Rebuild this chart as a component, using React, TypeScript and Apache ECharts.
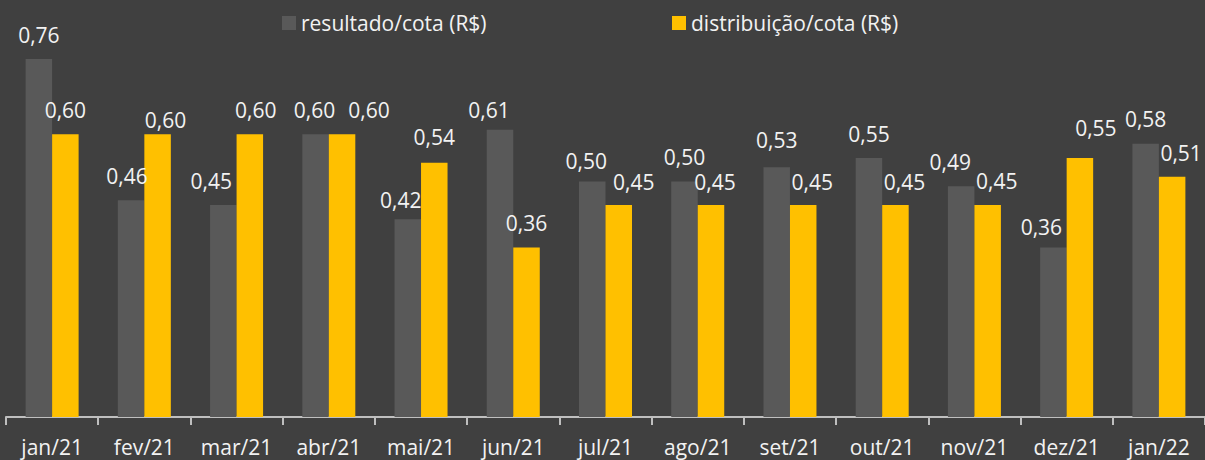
import React, { useEffect, useRef } from "react";
import * as echarts from "echarts";

const categories = ["jan/21", "fev/21", "mar/21", "abr/21", "mai/21", "jun/21", "jul/21", "ago/21", "set/21", "out/21", "nov/21", "dez/21", "jan/22"];
const resultado = [0.76, 0.46, 0.45, 0.60, 0.42, 0.61, 0.50, 0.50, 0.53, 0.55, 0.49, 0.36, 0.58];
const distribuicao = [0.60, 0.60, 0.60, 0.60, 0.54, 0.36, 0.45, 0.45, 0.45, 0.45, 0.45, 0.55, 0.51];
const seriesNames = ["resultado/cota (R$)", "distribuição/cota (R$)"];

// manual label nudges (style only, px): [dx, dy] per category
const resultadoLabelShift: [number, number][] = [
  [0, 0], [-4, 0], [-12, 0], [-1, 0], [-7, 5], [-11, 5], [-6, 4], [0, 0], [0, -3], [0, 1], [-11, 0], [-12, 4], [0, 0],
];
const distribuicaoLabelShift: [number, number][] = [
  [0, 0], [8, 10], [6, 0], [27, 0], [0, -1], [0, 0], [15, 1], [4, 1], [9, 1], [9, 1], [9, 0], [16, -5], [9, 1],
];

const FONT = "Open Sans";
const fmt = (p: any) => Number(p.value).toFixed(2).replace(".", ",");

export default function App() {
  const ref = useRef<HTMLDivElement>(null);
  useEffect(() => {
    if (!ref.current) return;
    const chart = echarts.init(ref.current, undefined, { renderer: "svg" });
    const label = {
      show: true,
      position: "top" as const,
      distance: 14,
      color: "#f2f2f2",
      fontFamily: FONT,
      fontSize: 21,
      formatter: fmt,
    };
    const withShift = (vals: number[], shifts: [number, number][]) =>
      vals.map((v, i) => ({ value: v, label: { offset: shifts[i] } }));
    const legendBase = {
      top: 12,
      icon: "rect",
      itemWidth: 14,
      itemHeight: 14,
      padding: 0,
      textStyle: { color: "#f2f2f2", fontSize: 21, fontFamily: FONT, lineHeight: 22 },
    };
    chart.setOption({
      animation: false,
      backgroundColor: "#404040",
      textStyle: { fontFamily: FONT },
      legend: [
        { ...legendBase, data: [seriesNames[0]], left: 282 },
        { ...legendBase, data: [seriesNames[1]], left: 672 },
      ],
      grid: { left: 6, top: 59, width: 1204.7, bottom: 43, containLabel: false },
      xAxis: {
        type: "category",
        data: categories,
        axisLine: { lineStyle: { color: "#bfbfbf", width: 2 } },
        axisTick: { show: true, interval: 0, length: 8, lineStyle: { color: "#bfbfbf", width: 2 } },
        axisLabel: { interval: 0, color: "#f2f2f2", fontSize: 21, fontFamily: FONT, margin: 19 },
      },
      yAxis: {
        type: "value",
        min: 0,
        max: Math.max(...resultado, ...distribuicao),
        show: false,
        splitLine: { show: false },
      },
      series: [
        {
          name: seriesNames[0],
          type: "bar",
          data: withShift(resultado, resultadoLabelShift),
          barWidth: 26.5,
          barGap: "0%",
          itemStyle: { color: "#595959" },
          label,
        },
        {
          name: seriesNames[1],
          type: "bar",
          data: withShift(distribuicao, distribuicaoLabelShift),
          barWidth: 26.5,
          barGap: "0%",
          itemStyle: { color: "#FFC000" },
          label,
        },
      ],
    });
    return () => chart.dispose();
  }, []);
  return (
    <div
      ref={ref}
      style={{ position: "fixed", left: 0, top: 0, width: 1205, height: 460 }}
    />
  );
}
